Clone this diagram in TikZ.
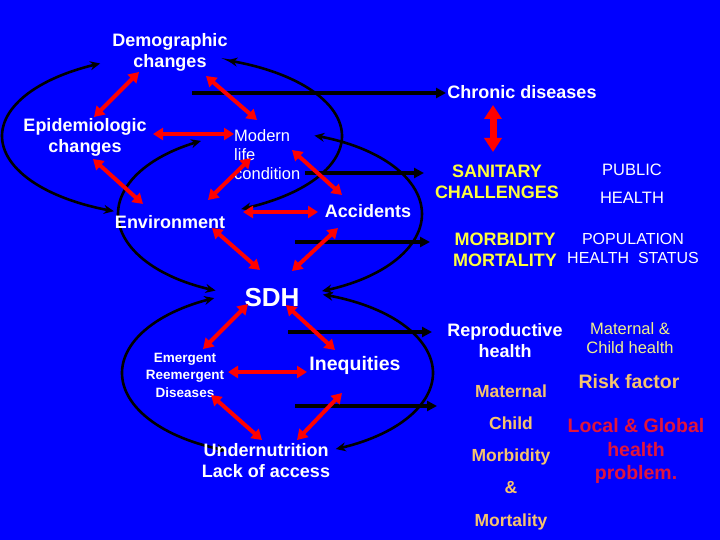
\documentclass[tikz,border=0pt]{standalone}
\usepackage{fontspec}
\setmainfont{Liberation Sans}
\usetikzlibrary{arrows.meta,calc}
\definecolor{bg}{RGB}{0,0,255}
\definecolor{myyellow}{RGB}{255,255,60}
\definecolor{paleyellow}{RGB}{240,240,140}
\definecolor{mytan}{RGB}{245,195,110}
\definecolor{crim}{RGB}{225,20,60}
\definecolor{myred}{RGB}{255,0,0}
\begin{document}
\begin{tikzpicture}[x=1pt,y=-1pt,
  ell/.style={draw=black, line width=2.6pt, {Stealth[length=10pt,width=9pt]}-{Stealth[length=10pt,width=9pt]}},
  redarr/.style={draw=myred, line width=4pt, {Triangle[width=12pt,length=10pt]}-{Triangle[width=12pt,length=10pt]}},
  bigred/.style={draw=myred, line width=7pt, {Triangle[width=17pt,length=14pt]}-{Triangle[width=17pt,length=14pt]}},
  blkarr/.style={draw=black, line width=4pt, -{Triangle[width=10pt,length=10pt]}},
  lbl/.style={inner sep=0pt, align=center, text=white},
  bfa/.style={font=\bfseries\fontsize{18}{21}\selectfont},
  rga/.style={font=\fontsize{16.5}{19}\selectfont}]
\fill[bg] (0,0) rectangle (720,540);
\useasboundingbox (0,0) rectangle (720,540);

% cyclic ellipses
\draw[ell] plot[domain=115:250, samples=60, smooth] ({172+170*cos(\x)},{136-80*sin(\x)});
\draw[ell] plot[domain=-66:71, samples=60, smooth] ({172+170*cos(\x)},{136-80*sin(\x)});
\draw[ell] plot[domain=117:249, samples=60, smooth] ({270+152*cos(\x)},{214-82*sin(\x)});
\draw[ell] plot[domain=-70:73, samples=60, smooth] ({270+152*cos(\x)},{214-82*sin(\x)});
\draw[ell] plot[domain=114:251, samples=60, smooth] ({277.5+155.5*cos(\x)},{373-82*sin(\x)});
\draw[ell] plot[domain=-68:73, samples=60, smooth] ({277.5+155.5*cos(\x)},{373-82*sin(\x)});

% texts
\node[lbl,bfa] (demo) at (170,52) {Demographic\\changes};
\node[lbl,bfa] (chronic) at (522,92) {Chronic diseases};
\node[lbl,bfa] (epi) at (85,137) {Epidemiologic\\changes};
\node[lbl,rga,align=left,anchor=west] (modern) at (234,155) {Modern\\life\\condition};
\node[lbl,bfa] (env) at (170,222) {Environment};
\node[lbl,bfa] (acc) at (368,211) {Accidents};
\node[lbl,font=\bfseries\fontsize{26}{30}\selectfont] (sdh) at (272,298) {SDH};
\node[lbl,font=\bfseries\fontsize{13.5}{17.5}\selectfont] (emerg) at (185,375) {Emergent\\Reemergent\\Diseases};
\node[lbl,font=\bfseries\fontsize{19.5}{23}\selectfont] (ineq) at (355,365) {Inequities};
\node[lbl,bfa] (under) at (266,461) {Undernutrition\\Lack of access};
\node[lbl,bfa,text=myyellow] (sanit) at (497,182) {SANITARY\\CHALLENGES};
\node[lbl,font=\fontsize{16.5}{28}\selectfont] (public) at (632,184) {PUBLIC\\HEALTH};
\node[lbl,bfa,text=myyellow] (morb) at (505,250) {MORBIDITY\\MORTALITY};
\node[lbl,font=\fontsize{16}{19}\selectfont] (pop) at (633,248) {POPULATION\\HEALTH\ \ STATUS};
\node[lbl,bfa] (repro) at (505,341) {Reproductive\\health};
\node[lbl,rga,text=paleyellow] (mch) at (630,338) {Maternal \&\\Child health};
\node[lbl,font=\bfseries\fontsize{17.5}{32.25}\selectfont,text=mytan] (mat) at (511,457) {Maternal\\Child\\Morbidity\\\&\\Mortality};
\node[lbl,font=\bfseries\fontsize{19.5}{23}\selectfont,text=mytan] (risk) at (629,382) {Risk factor};
\node[lbl,font=\bfseries\fontsize{19.5}{23.5}\selectfont,text=crim] (local) at (636,451) {Local \& Global\\health\\problem.};

% black arrows
\coordinate (b1s) at (192,93);  \coordinate (b1e) at (446,93);
\coordinate (b2s) at (305,173); \coordinate (b2e) at (424,173);
\coordinate (b3s) at (295,242); \coordinate (b3e) at (430,242);
\coordinate (b4s) at (288,332); \coordinate (b4e) at (432,332);
\coordinate (b5s) at (295,406); \coordinate (b5e) at (437,406);
\draw[blkarr] (b1s) -- (b1e);
\draw[blkarr] (b2s) -- (b2e);
\draw[blkarr] (b3s) -- (b3e);
\draw[blkarr] (b4s) -- (b4e);
\draw[blkarr] (b5s) -- (b5e);

% red arrows
\coordinate (r1a) at (139,72);  \coordinate (r1b) at (94,117);
\coordinate (r2a) at (206,76);  \coordinate (r2b) at (257,120);
\coordinate (r3a) at (153,134); \coordinate (r3b) at (234,134);
\coordinate (r4a) at (93,159);  \coordinate (r4b) at (143,204);
\coordinate (r5a) at (251,158); \coordinate (r5b) at (208,200);
\coordinate (r6a) at (292,150); \coordinate (r6b) at (342,195);
\coordinate (r7a) at (243,212); \coordinate (r7b) at (318,212);
\coordinate (r8a) at (212,228); \coordinate (r8b) at (260,270);
\coordinate (r9a) at (338,228); \coordinate (r9b) at (292,271);
\coordinate (r10a) at (248,304); \coordinate (r10b) at (203,349);
\coordinate (r11a) at (286,305); \coordinate (r11b) at (335,350);
\coordinate (r12a) at (228,372); \coordinate (r12b) at (307,372);
\coordinate (r13a) at (211,395); \coordinate (r13b) at (262,440);
\coordinate (r14a) at (342,393); \coordinate (r14b) at (297,440);
\coordinate (rva) at (493,105); \coordinate (rvb) at (493,152);
\foreach \i in {1,...,14} {\draw[redarr] (r\i a) -- (r\i b);}
\draw[bigred] (rva) -- (rvb);
\end{tikzpicture}
\end{document}
